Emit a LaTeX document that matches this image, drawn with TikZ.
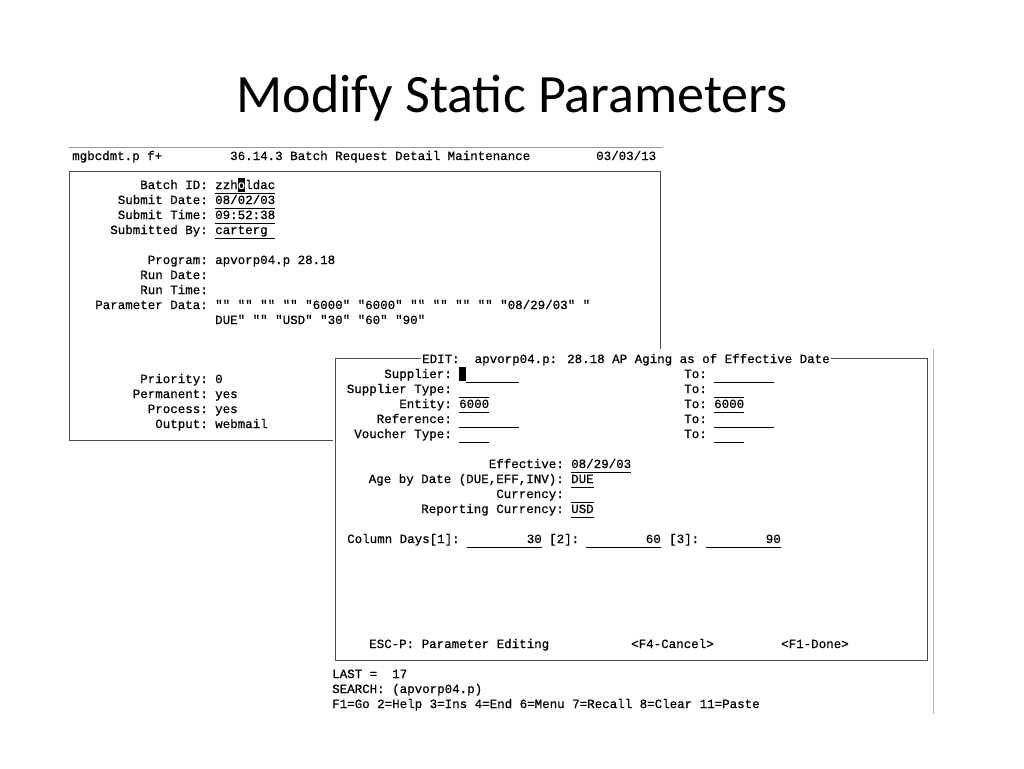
\documentclass[tikz,border=0pt]{standalone}
\usepackage{fontspec}
\setmainfont{Carlito}
\newfontfamily\term{Liberation Mono}[FakeBold=0.6]
\begin{document}
\begin{tikzpicture}[x=1pt,y=-1pt,
  tx/.style={inner sep=0pt,font=\term\fontsize{12.5}{15}\selectfont},
  lab/.style={tx,anchor=base east},
  val/.style={tx,anchor=base west},
  ul/.style={line width=1pt},
  frame/.style={draw=black!70,line width=1pt}]
\useasboundingbox (0,0) rectangle (1024,768);
\node[font=\fontsize{54}{60}\selectfont] (title) at (512,98) {Modify Static Parameters};
% screen 1
\draw[black!40,line width=0.8pt] (69,147) -- (663,147);
\node[val] (h1) at (72,160) {mgbcdmt.p f+};
\node[val] (h2) at (230,160) {36.14.3 Batch Request Detail Maintenance};
\node[val] (h3) at (596,160) {03/03/13};
\draw[frame] (69,171) rectangle (660,440);
\foreach \y/\t in {189/Batch ID:,204/Submit Date:,219/Submit Time:,234/Submitted By:,264/Program:,279/Run Date:,294/Run Time:,309/Parameter Data:,383/Priority:,398/Permanent:,413/Process:,428/Output:}
  \node[lab] at (208,\y) {\t};
\fill (237.5,178) rectangle (245,192);
\node[val] (bid) at (215,189) {zzh\textcolor{white}{o}ldac};
\node[val] at (215,204) {08/02/03};
\node[val] at (215,219) {09:52:38};
\node[val] at (215,234) {carterg};
\foreach \y in {193,208,223,238} \draw[ul] (215,\y) -- (275,\y);
\node[val] at (215,264) {apvorp04.p 28.18};
\node[val] at (215,309) {"" "" "" "" "6000" "6000" "" "" "" "" "08/29/03" "};
\node[val] at (215,324) {DUE" "" "USD" "30" "60" "90"};
\node[val] at (215,383) {0};
\node[val] at (215,398) {yes};
\node[val] at (215,413) {yes};
\node[val] at (215,428) {webmail};
% screen 2
\fill[white] (333,349) rectangle (933,714);
\draw[black!30] (933,349) -- (933,714);
\draw[frame] (335,358) rectangle (927,660);
\node[val,fill=white,inner xsep=1pt,inner ysep=2pt] (et) at (421,363) {EDIT:\ \ apvorp04.p: 28.18 AP Aging as of Effective Date};
\foreach \y/\t in {378/Supplier:,393/Supplier Type:,408/Entity:,423/Reference:,438/Voucher Type:}
  \node[lab] at (452,\y) {\t};
\foreach \y in {378,393,408,423,438} \node[lab] at (707,\y) {To:};
\fill (459,367) rectangle (466,381);
\draw[ul] (466,382) -- (519,382);
\draw[ul] (459,397) -- (489,397);
\draw[ul] (459,412) -- (489,412);
\draw[ul] (459,427) -- (519,427);
\draw[ul] (459,442) -- (489,442);
\node[val] at (459,408) {6000};
\draw[ul] (714,382) -- (774,382);
\draw[ul] (714,397) -- (744,397);
\draw[ul] (714,412) -- (744,412);
\draw[ul] (714,427) -- (774,427);
\draw[ul] (714,442) -- (744,442);
\node[val] at (714,408) {6000};
\foreach \y/\t in {468/Effective:,483/{Age by Date (DUE,EFF,INV):},498/Currency:,513/Reporting Currency:}
  \node[lab] at (564,\y) {\t};
\node[val] at (571,468) {08/29/03};
\node[val] at (571,483) {DUE};
\node[val] at (571,513) {USD};
\draw[ul] (571,472) -- (631,472);
\draw[ul] (571,487) -- (594,487);
\draw[ul] (571,502) -- (594,502);
\draw[ul] (571,517) -- (594,517);
\node[val] at (347,543) {Column Days[1]:};
\node[tx,anchor=base east] at (542,543) {30};
\node[val] at (549,543) {[2]:};
\node[tx,anchor=base east] at (661,543) {60};
\node[val] at (669,543) {[3]:};
\node[tx,anchor=base east] at (781,543) {90};
\draw[ul] (467,547) -- (542,547);
\draw[ul] (586,547) -- (661,547);
\draw[ul] (706,547) -- (781,547);
\node[val] at (369,648) {ESC-P: Parameter Editing};
\node[val] at (631,648) {<F4-Cancel>};
\node[val] at (781,648) {<F1-Done>};
\node[val] at (332,678) {LAST =\ \ 17};
\node[val] at (332,693) {SEARCH: (apvorp04.p)};
\node[val] at (332,708) {F1=Go 2=Help 3=Ins 4=End 6=Menu 7=Recall 8=Clear 11=Paste};
\end{tikzpicture}
\end{document}
